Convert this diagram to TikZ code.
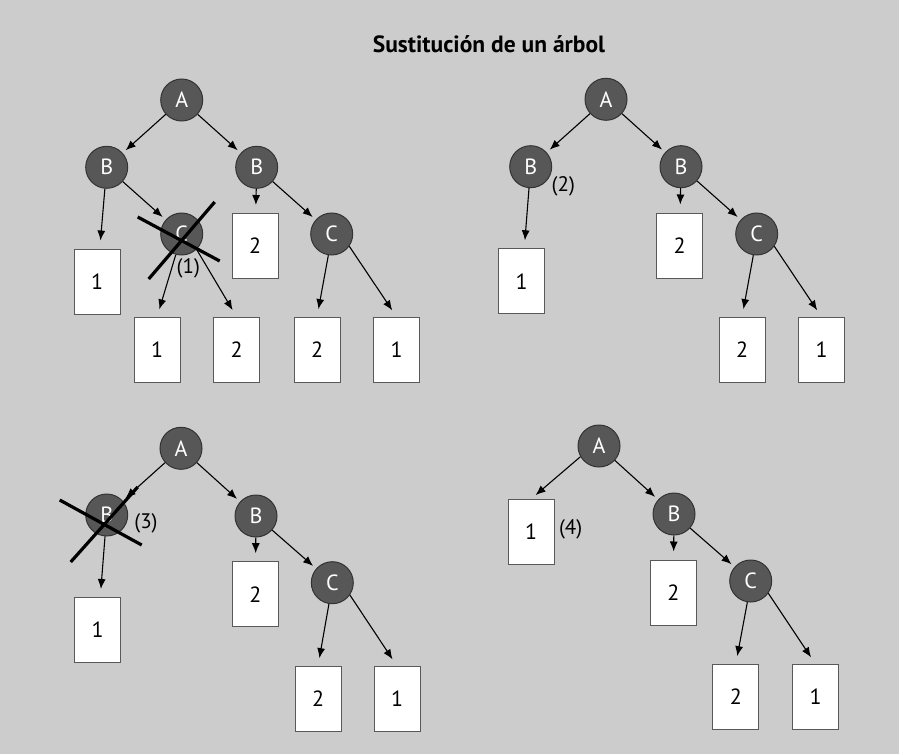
\documentclass[tikz,border=0pt]{standalone}
\usepackage{fontspec}
\setmainfont{PT Sans}
\usetikzlibrary{arrows.meta,calc}

\definecolor{fondo}{HTML}{CCCCCC}
\definecolor{gris}{HTML}{575757}

\begin{document}
\begin{tikzpicture}[x=1pt,y=-1pt,
  nodo/.style={circle,draw=black!80,line width=1pt,fill=gris,minimum size=42pt,inner sep=0pt,text=white,font=\fontsize{22}{22}\selectfont},
  hoja/.style={rectangle,draw=black!65,line width=1pt,fill=white,minimum width=46pt,minimum height=65pt,inner sep=0pt,font=\fontsize{22}{22}\selectfont},
  flecha/.style={-{Latex[length=10pt,width=8pt]},line width=1.1pt,shorten >=4pt},
  alhoja/.style={flecha,shorten >=8pt},
  tacha/.style={line width=3.2pt},
  nota/.style={font=\fontsize{21}{21}\selectfont}]

  \fill[fondo] (0,0) rectangle (899,754);
  \useasboundingbox (0,0) rectangle (899,754);

  \node[anchor=base,font=\bfseries\fontsize{23.5}{23.5}\selectfont] (titulo) at (489,53) {Sustitución de un árbol};

  \node[nodo] (a1) at (181.7,100) {A};
  \node[nodo] (b11) at (106.7,167.3) {B};
  \node[nodo] (b12) at (256.7,167.3) {B};
  \node[nodo] (c11) at (181.7,234) {C};
  \node[nodo] (c12) at (331.7,234) {C};
  \node[hoja] (h11) at (97,281.5) {1};
  \node[hoja] (h12) at (255,246) {2};
  \node[hoja] (h13) at (157,350) {1};
  \node[hoja] (h14) at (236.7,350) {2};
  \node[hoja] (h15) at (317,350) {2};
  \node[hoja] (h16) at (396.7,350) {1};
  \draw[flecha] (a1) -- (b11);
  \draw[flecha] (a1) -- (b12);
  \draw[alhoja] (b11) -- (h11);
  \draw[flecha] (b11) -- (c11);
  \draw[alhoja] (b12) -- (h12);
  \draw[flecha] (b12) -- (c12);
  \draw[alhoja] (c11.-106) -- (h13.north);
  \draw[alhoja] (c11.-46) -- (h14.north);
  \draw[alhoja] (c12.-99) -- (h15.north);
  \draw[alhoja] (c12.-35) -- (h16.north);
  \draw[tacha] ($(c11)+(-44,-17)$) -- ($(c11)+(38,27)$);
  \draw[tacha] ($(c11)+(33,-32)$) -- ($(c11)+(-33,45)$);
  \node[nota] (n1) at (188.3,268.3) {(1)};

  \node[nodo] (a2) at (606,99.3) {A};
  \node[nodo] (b21) at (530.7,166.7) {B};
  \node[nodo] (b22) at (681,166.7) {B};
  \node[nodo] (c22) at (756.7,234) {C};
  \node[hoja] (h21) at (521.7,281.3) {1};
  \node[hoja] (h22) at (679.5,245.5) {2};
  \node[hoja] (h23) at (742,350) {2};
  \node[hoja] (h24) at (821.7,350) {1};
  \draw[flecha] (a2) -- (b21);
  \draw[flecha] (a2) -- (b22);
  \draw[alhoja] (b21) -- (h21);
  \draw[alhoja] (b22) -- (h22);
  \draw[flecha] (b22) -- (c22);
  \draw[alhoja] (c22.-99) -- (h23.north);
  \draw[alhoja] (c22.-35) -- (h24.north);
  \node[nota] (n2) at (563.3,186) {(2)};

  \node[nodo] (a3) at (181,448.3) {A};
  \node[nodo] (b31) at (106.7,515) {B};
  \node[nodo] (b32) at (256,516) {B};
  \node[nodo] (c32) at (332.3,582.7) {C};
  \node[hoja] (h31) at (97.7,630) {1};
  \node[hoja] (h32) at (255.3,594.2) {2};
  \node[hoja] (h33) at (318,699) {2};
  \node[hoja] (h34) at (397,699) {1};
  \draw[flecha] (a3) -- (b31);
  \draw[flecha] (a3) -- (b32);
  \draw[alhoja] (b31) -- (h31);
  \draw[alhoja] (b32) -- (h32);
  \draw[flecha] (b32) -- (c32);
  \draw[alhoja] (c32.-99) -- (h33.north);
  \draw[alhoja] (c32.-35) -- (h34.north);
  \draw[tacha] ($(b31)+(-47,-15)$) -- ($(b31)+(35,30)$);
  \draw[tacha] ($(b31)+(31,-28)$) -- ($(b31)+(-36,47)$);
  \node[nota] (n3) at (146,523.3) {(3)};

  \node[nodo] (a4) at (599,446) {A};
  \node[nodo] (b42) at (674,514) {B};
  \node[nodo] (c42) at (750.7,581) {C};
  \node[hoja] (h41) at (531,532) {1};
  \node[hoja] (h42) at (673.3,592.5) {2};
  \node[hoja] (h43) at (735.8,697) {2};
  \node[hoja] (h44) at (815.5,697) {1};
  \draw[flecha,shorten >=6pt] (a4.-150) -- (h41.north);
  \draw[flecha] (a4) -- (b42);
  \draw[alhoja] (b42) -- (h42);
  \draw[flecha] (b42) -- (c42);
  \draw[alhoja] (c42.-99) -- (h43.north);
  \draw[alhoja] (c42.-35) -- (h44.north);
  \node[nota] (n4) at (570.7,529.3) {(4)};
\end{tikzpicture}
\end{document}
